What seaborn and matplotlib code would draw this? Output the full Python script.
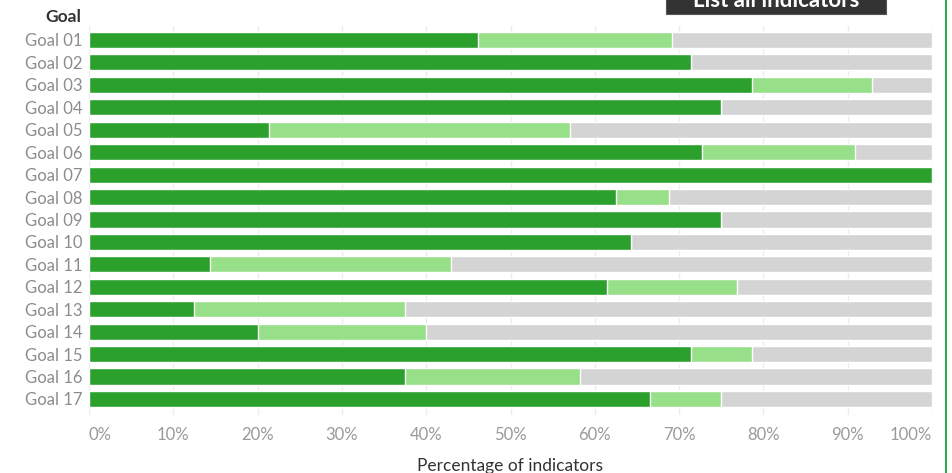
import pandas as pd
import matplotlib.pyplot as plt
import seaborn as sns
from matplotlib.patches import Rectangle
from matplotlib.ticker import PercentFormatter

# --- DADOS ---
goals = [f"Goal {i:02d}" for i in range(1, 18)]
# parte "met" (verde escuro) e total met+partial (verde claro), em %
met = [46.2, 71.4, 78.6, 75.0, 21.4, 72.7, 100.0, 62.5, 75.0, 64.3,
       14.3, 61.5, 12.5, 20.0, 71.4, 37.5, 66.5]
met_partial = [69.2, 71.4, 92.9, 75.0, 57.1, 90.9, 100.0, 68.75, 75.0, 64.3,
               42.9, 76.9, 37.5, 40.0, 78.6, 58.3, 75.0]
total = [100.0] * 17
x_ticks = [0, 10, 20, 30, 40, 50, 60, 70, 80, 90, 100]

DARK = '#2ca02c'
LIGHT = '#98df8a'
GREY = '#d4d4d4'

sns.set_theme(style="white")
plt.rcParams['font.family'] = ['Lato', 'DejaVu Sans']

df = pd.DataFrame({'goal': goals, 'met': met, 'met_partial': met_partial, 'total': total})

fig = plt.figure(figsize=(9.53, 4.73), dpi=100)
ax = fig.add_axes([89 / 953, 1 - 414.7 / 473, 843 / 953, (414.7 - 26.5) / 473])

for xv in x_ticks:
    ax.axvline(xv, color='#ececec', linewidth=1, zorder=0)

sns.barplot(data=df, x='total', y='goal', color=GREY, width=0.72, ax=ax, zorder=2, saturation=1)
sns.barplot(data=df, x='met_partial', y='goal', color=LIGHT, width=0.72, ax=ax, zorder=3, saturation=1)
sns.barplot(data=df, x='met', y='goal', color=DARK, width=0.72, ax=ax, zorder=4, saturation=1)

ax.set_xlim(0, 100)
ax.set_ylim(16.7, -0.6)
ax.set_xticks(x_ticks)
ax.xaxis.set_major_formatter(PercentFormatter(decimals=0))
ax.tick_params(axis='x', colors='#9a9a9a', labelsize=12, length=0, pad=9)
ax.tick_params(axis='y', colors='#8c8c8c', labelsize=12, length=0, pad=5)
labels = ax.get_xticklabels()
labels[0].set_ha('left')
labels[-1].set_ha('right')
ax.set_xlabel('')
ax.set_ylabel('')
for s in ax.spines.values():
    s.set_visible(False)

fig.text(81 / 953, 1 - 17 / 473, 'Goal', ha='right', va='center', fontsize=12.5,
         color='#333333', fontweight='bold')
fig.text(510 / 953, 1 - 466 / 473, 'Percentage of indicators', ha='center', va='center',
         fontsize=12.5, color='#333333')

# botão cortado no topo
fig.patches.append(Rectangle((666 / 953, 1 - 14 / 473), 220 / 953, 30 / 473,
                             transform=fig.transFigure, facecolor='#333333',
                             edgecolor='#555555', linewidth=0.8))
fig.text(776 / 953, 1 - 7 / 473, 'List all indicators', ha='center', va='baseline',
         fontsize=16, color='white', fontweight='bold')

# linha verde na borda direita
fig.patches.append(Rectangle((945 / 953, 0), 2.5 / 953, 1, transform=fig.transFigure,
                             facecolor='#22b04b', edgecolor='none'))

fig.savefig('out.png', dpi=100)
